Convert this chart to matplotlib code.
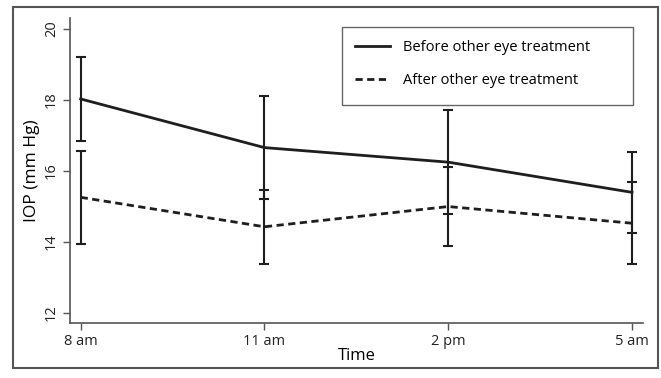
import matplotlib
matplotlib.use("Agg")
import matplotlib.pyplot as plt
from matplotlib.patches import Rectangle
from matplotlib.lines import Line2D
import numpy as np

plt.rcParams['font.family'] = ['Open Sans', 'DejaVu Sans']

times = ["8 am", "11 am", "2 pm", "5 am"]
before_mean = [18.03, 16.66, 16.25, 15.40]
before_err = [1.19, 1.44, 1.46, 1.15]
after_mean = [15.26, 14.43, 15.00, 14.53]
after_err = [1.31, 1.04, 1.10, 1.16]
yticks = [12, 14, 16, 18, 20]
labels = ["Before other eye treatment", "After other eye treatment"]

dark = "#1e1e1e"
gray = "#555555"
dash = (0, (2.6, 1.6))

fig = plt.figure(figsize=(6.61, 3.78), dpi=100)
ax = fig.add_axes([70/661, (378-323)/378, 573/661, 305/378])

x = np.arange(len(times))
ax.errorbar(x, before_mean, yerr=before_err, color=dark, lw=2.0, ls='-',
            elinewidth=1.5, capsize=3.4, capthick=1.5)
ax.errorbar(x, after_mean, yerr=after_err, color=dark, lw=2.0, ls=dash,
            elinewidth=1.5, capsize=3.4, capthick=1.5)

ax.set_xlim(-0.058, 3.06)
ax.set_ylim(11.72, 20.31)
ax.set_xticks(x)
ax.set_xticklabels(times, fontsize=10.5)
ax.set_yticks(yticks)
ax.set_yticklabels([str(v) for v in yticks], rotation=90, va='center', fontsize=10.5)
ax.set_xlabel("Time", fontsize=12, labelpad=-1)
ax.set_ylabel("IOP (mm Hg)", fontsize=12.5, labelpad=3)

for s in ['top', 'right']:
    ax.spines[s].set_visible(False)
for s in ['left', 'bottom']:
    ax.spines[s].set_color(gray)
    ax.spines[s].set_linewidth(1.2)
ax.tick_params(color=gray, length=5, width=1.0, labelcolor="#222222", pad=3)

# legend frame
ax.add_patch(Rectangle((0.4747, 0.7148), 0.9825-0.4747, 0.9705-0.7148,
                       transform=ax.transAxes, fill=False, ec="#666666", lw=1.0, zorder=5))
handles = [Line2D([], [], color=dark, lw=2.0, ls='-'),
           Line2D([], [], color=dark, lw=2.0, ls=dash)]
ax.legend(handles, labels, loc='upper left', bbox_to_anchor=(0.4747, 0.9705), frameon=False,
          fontsize=10.5, handlelength=2.4, handletextpad=0.9, labelspacing=1.2,
          borderpad=0.9, borderaxespad=0)

# outer border
fig.add_artist(Rectangle((13/661, 10/378), 645/661, 361/378, transform=fig.transFigure,
                         fill=False, ec="#555555", lw=1.5))

fig.savefig("out.png", dpi=100)
